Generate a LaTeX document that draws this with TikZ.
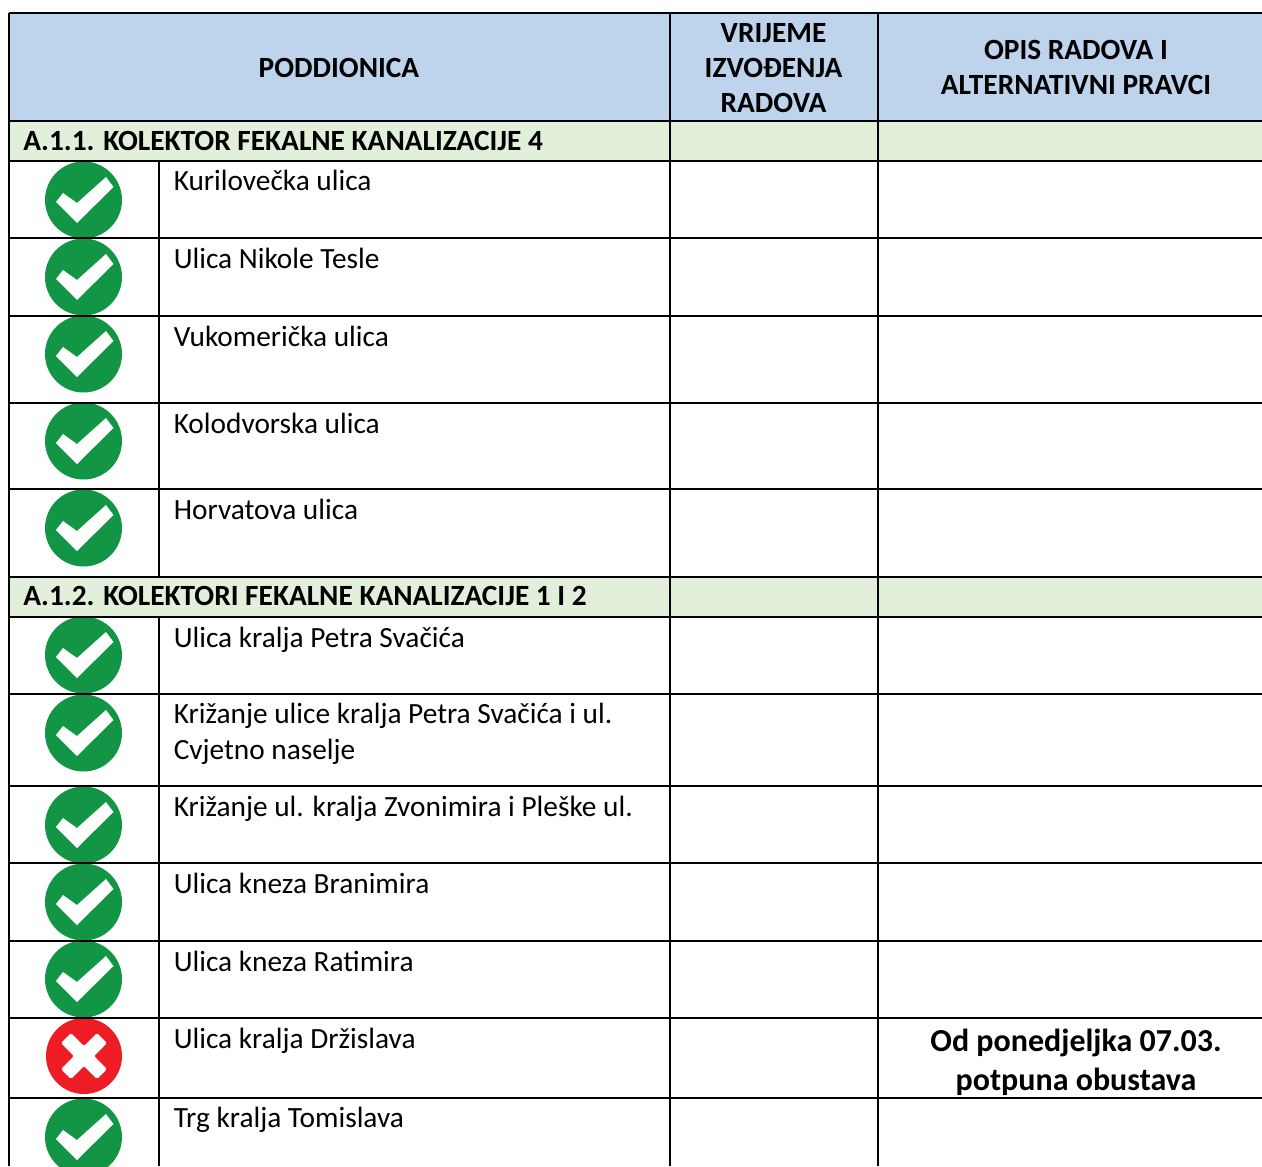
\documentclass[tikz,border=0pt]{standalone}
\usepackage{fontspec}
\setmainfont{Carlito}
\definecolor{headblue}{HTML}{BDD4EC}
\definecolor{secgreen}{HTML}{E2EFDA}
\definecolor{okgreen}{HTML}{129545}
\definecolor{nored}{HTML}{EE1C25}
\tikzset{
  grid/.style={line width=1.5pt,black},
  head/.style={font=\fontsize{22}{26.5}\selectfont\bfseries,align=center,inner sep=0pt,anchor=center},
  sect/.style={font=\fontsize{22}{26}\selectfont\bfseries,inner sep=0pt,anchor=base west},
  cell/.style={font=\fontsize{22}{27}\selectfont,inner sep=0pt,anchor=base west,align=left},
  note/.style={font=\fontsize{24}{29.25}\selectfont\bfseries,inner sep=0pt,align=center,anchor=center},
}
\newcommand{\okicon}[1]{\begin{scope}[shift={(83.5,#1)}]
  \fill[okgreen] (0,0) circle [x radius=38.5,y radius=-38.5];
  \fill[white] (-27.5,2)--(-20.5,-7)--(-6.5,3)--(22.5,-23)--(30,-13)--(-6.5,23)--cycle;
\end{scope}}
\newcommand{\noicon}[1]{\begin{scope}[shift={(84,#1)}]
  \fill[nored] (0,0) circle [x radius=38,y radius=-38];
  \fill[white,rounded corners=1.5] (-23,-13)--(-13,-23)--(0,-10)--(13,-23)--(23,-13)--(10,0)--(23,13)--(13,23)--(0,10)--(-13,23)--(-23,13)--(-10,0)--cycle;
\end{scope}}
\begin{document}
\begin{tikzpicture}[x=0.75pt,y=-0.75pt]
\useasboundingbox (0,0) rectangle (1262,1166);
\fill[white] (0,0) rectangle (1262,1166);
\fill[headblue] (9,13) rectangle (1262,121);
\fill[secgreen] (9,121) rectangle (1262,161);
\fill[secgreen] (9,577) rectangle (1262,617);
% icons
\okicon{200}\okicon{277}\okicon{354}\okicon{441}\okicon{528}
\okicon{655}\okicon{733}\okicon{825}\okicon{902}\okicon{979}
\noicon{1056}\okicon{1137}
% rules
\foreach \y in {13,121,161,238,316,403,489,577,617,694,786,863,941,1018,1098}
  \draw[grid] (9,\y) -- (1262,\y);
\draw[grid] (9,13) -- (9,1166);
\draw[grid] (670,13) -- (670,1166);
\draw[grid] (878,13) -- (878,1166);
\draw[grid] (159,161) -- (159,577);
\draw[grid] (159,617) -- (159,1166);
% header
\node[head] (h1) at (339,68) {PODDIONICA};
\node[head] (h2) at (773.5,68) {VRIJEME\\IZVOĐENJA\\RADOVA};
\node[head] (h3) at (1076,67.5) {OPIS RADOVA I\\ALTERNATIVNI PRAVCI};
% sections
\node[sect] (s1) at (23,151) {A.1.1. KOLEKTOR FEKALNE KANALIZACIJE 4};
\node[sect] (s2) at (23,605.5) {A.1.2. KOLEKTORI FEKALNE KANALIZACIJE 1 I 2};
% cells
\node[cell] (c1) at (173.5,191) {Kurilovečka ulica};
\node[cell] (c2) at (173.5,268) {Ulica Nikole Tesle};
\node[cell] (c3) at (173.5,346) {Vukomerička ulica};
\node[cell] (c4) at (173.5,433) {Kolodvorska ulica};
\node[cell] (c5) at (173.5,519) {Horvatova ulica};
\node[cell] (c6) at (173.5,647) {Ulica kralja Petra Svačića};
\node[cell,anchor=north west] (c7) at (173.5,703) {Križanje ulice kralja Petra Svačića i ul.\\Cvjetno naselje};
\node[cell] (c8) at (173.5,816) {Križanje ul. kralja Zvonimira i Pleške ul.};
\node[cell] (c9) at (173.5,893) {Ulica kneza Branimira};
\node[cell] (c10) at (173.5,971) {Ulica kneza Ratimira};
\node[cell] (c11) at (173.5,1048) {Ulica kralja Držislava};
\node[cell] (c12) at (173.5,1127) {Trg kralja Tomislava};
\node[note] (n1) at (1076,1062) {Od ponedjeljka 07.03.\\potpuna obustava};
\end{tikzpicture}
\end{document}
